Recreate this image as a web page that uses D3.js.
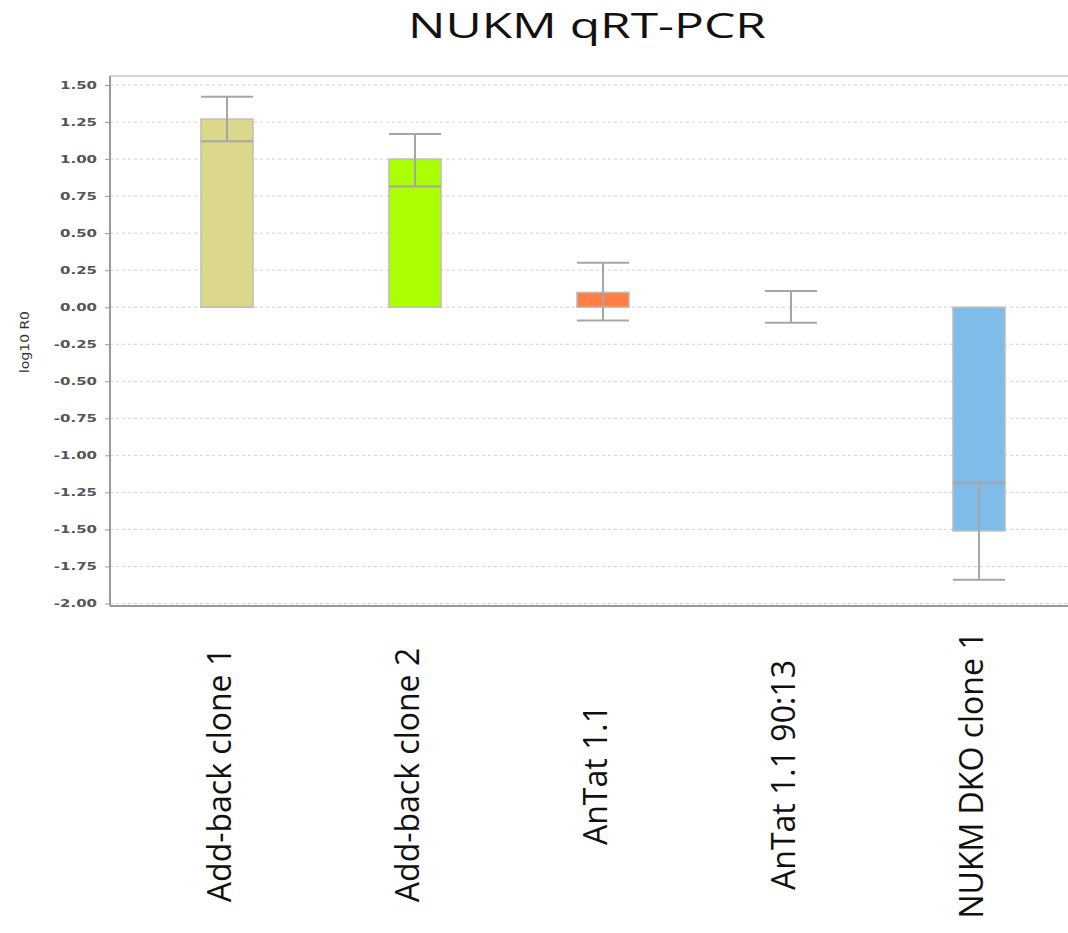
<!DOCTYPE html>
<html>
<head>
<meta charset="utf-8">
<script src="https://cdn.jsdelivr.net/npm/d3@7"></script>
<style>
  html, body { margin: 0; padding: 0; background: #fff; }
  svg { display: block; }
</style>
</head>
<body>
<svg id="chart" width="1068" height="933"></svg>
<script>
// Sample groups and their log10 R0 expression
const categories = ["Add-back clone 1", "Add-back clone 2", "AnTat 1.1", "AnTat 1.1 90:13", "NUKM DKO clone 1"];
const log10R0 = [1.27, 1.00, 0.10, 0.00, -1.51];
const errorUpper = [1.42, 1.17, 0.30, 0.11, -1.185];
const errorLower = [1.12, 0.815, -0.09, -0.105, -1.84];
const barColors = ["#dbd78a", "#aaff00", "#ff7f45", "#9e9e9e", "#80bcea"];
const yTicks = [1.5, 1.25, 1.0, 0.75, 0.5, 0.25, 0, -0.25, -0.5, -0.75, -1.0, -1.25, -1.5, -1.75, -2.0];

const svg = d3.select("#chart");

const plot = { left: 110, right: 1068, top: 76, bottom: 606 };

const x = d3.scaleBand()
  .domain(categories)
  .range([133, 1073])
  .paddingInner(0.723)
  .paddingOuter(0.3615);

const y = d3.scaleLinear()
  .domain([-2, 1.5])
  .range([603.5, 85]);

// Title
svg.append("text")
  .attr("x", 587)
  .attr("y", 38)
  .attr("text-anchor", "middle")
  .attr("font-family", "Open Sans, sans-serif")
  .attr("font-size", 34)
  .attr("textLength", 358)
  .attr("lengthAdjust", "spacingAndGlyphs")
  .attr("fill", "#111")
  .text("NUKM qRT-PCR");

// Plot frame (top border)
svg.append("line")
  .attr("x1", plot.left).attr("x2", plot.right)
  .attr("y1", plot.top).attr("y2", plot.top)
  .attr("stroke", "#d6d6d6").attr("stroke-width", 2);

// Dotted grid lines
svg.append("g")
  .selectAll("line")
  .data(yTicks)
  .join("line")
  .attr("x1", plot.left).attr("x2", plot.right)
  .attr("y1", d => y(d)).attr("y2", d => y(d))
  .attr("stroke", "#d2d2d2")
  .attr("stroke-width", 1)
  .attr("stroke-dasharray", "3,3");

// Y axis
const yAxis = svg.append("g")
  .attr("transform", `translate(${plot.left},0)`)
  .call(d3.axisLeft(y).tickValues(yTicks).tickFormat(d3.format(".2f")).tickSize(5));
yAxis.select(".domain").remove();
yAxis.selectAll(".tick line").attr("stroke", "#999");
yAxis.selectAll(".tick text")
  .attr("x", 0)
  .attr("transform", "translate(-13,0) scale(1.5,1)")
  .attr("font-family", "DejaVu Sans, sans-serif")
  .attr("font-size", 10)
  .attr("font-weight", "bold")
  .attr("fill", "#555")
  .text(d => d3.format(".2f")(d).replace("−", "-"));

svg.append("line")
  .attr("x1", plot.left).attr("x2", plot.left)
  .attr("y1", plot.top).attr("y2", plot.bottom)
  .attr("stroke", "#9a9a9a").attr("stroke-width", 2);
svg.append("line")
  .attr("x1", plot.left).attr("x2", plot.right)
  .attr("y1", plot.bottom).attr("y2", plot.bottom)
  .attr("stroke", "#9a9a9a").attr("stroke-width", 2);

// Y axis title
svg.append("text")
  .attr("transform", "translate(25,342) rotate(-90)")
  .attr("text-anchor", "middle")
  .attr("dominant-baseline", "middle")
  .attr("font-family", "DejaVu Sans Condensed, DejaVu Sans, sans-serif")
  .attr("font-size", 12)
  .attr("textLength", 62)
  .attr("lengthAdjust", "spacingAndGlyphs")
  .attr("fill", "#333")
  .text("log10 R0");

// Bars
const rows = categories.map((c, i) => ({
  cat: c, v: log10R0[i], hi: errorUpper[i], lo: errorLower[i], color: barColors[i]
}));

svg.append("g")
  .selectAll("rect")
  .data(rows)
  .join("rect")
  .attr("x", d => x(d.cat))
  .attr("width", x.bandwidth())
  .attr("y", d => y(Math.max(0, d.v)))
  .attr("height", d => Math.abs(y(d.v) - y(0)))
  .attr("fill", d => d.color)
  .attr("stroke", "#bdbdbd")
  .attr("stroke-width", 1.5);

// Error bars
const err = svg.append("g")
  .attr("stroke", "#a6a6a6")
  .attr("stroke-width", 2);
err.selectAll("line.v")
  .data(rows)
  .join("line")
  .attr("class", "v")
  .attr("x1", d => x(d.cat) + x.bandwidth() / 2)
  .attr("x2", d => x(d.cat) + x.bandwidth() / 2)
  .attr("y1", d => y(d.hi))
  .attr("y2", d => y(d.lo));
err.selectAll("line.hi")
  .data(rows)
  .join("line")
  .attr("class", "hi")
  .attr("x1", d => x(d.cat))
  .attr("x2", d => x(d.cat) + x.bandwidth())
  .attr("y1", d => y(d.hi))
  .attr("y2", d => y(d.hi));
err.selectAll("line.lo")
  .data(rows)
  .join("line")
  .attr("class", "lo")
  .attr("x1", d => x(d.cat))
  .attr("x2", d => x(d.cat) + x.bandwidth())
  .attr("y1", d => y(d.lo))
  .attr("y2", d => y(d.lo));

// Category labels, rotated
svg.append("g")
  .selectAll("text")
  .data(categories)
  .join("text")
  .attr("transform", d => `translate(${x(d) + x.bandwidth() / 2 - 5},775) rotate(-90)`)
  .attr("text-anchor", "middle")
  .attr("dominant-baseline", "middle")
  .attr("font-family", "Open Sans, sans-serif")
  .attr("font-size", 32)
  .attr("fill", "#111")
  .text(d => d);
</script>
</body>
</html>
